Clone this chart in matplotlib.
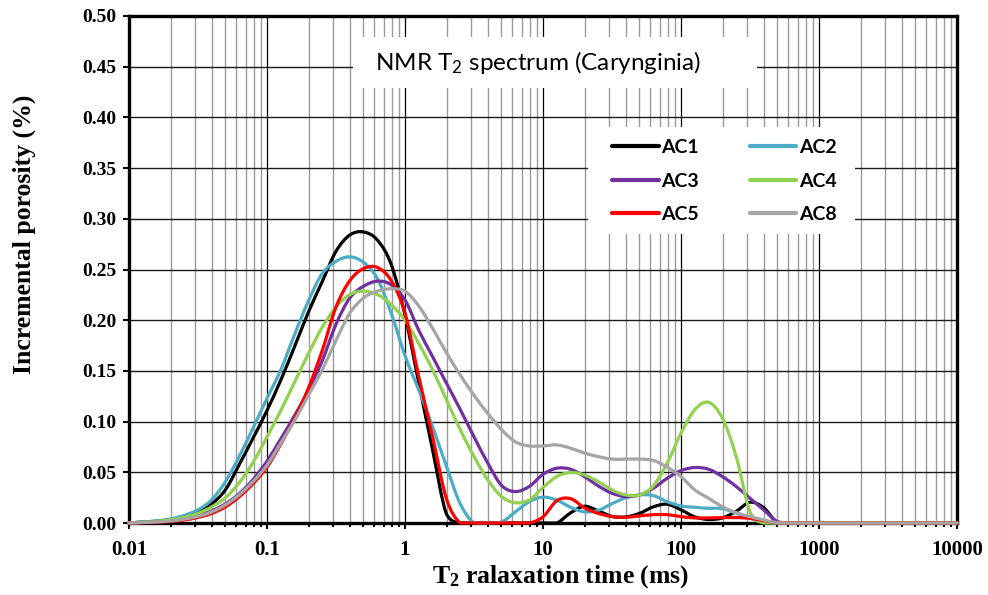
import numpy as np
import matplotlib
matplotlib.use("Agg")
import matplotlib.pyplot as plt
from matplotlib.path import Path
from matplotlib.patches import PathPatch, Rectangle
from matplotlib.lines import Line2D
from matplotlib.ticker import LogLocator, FixedLocator, NullFormatter

# T2 bins (ms), 10 per decade from 0.01 to 10000
t2 = np.logspace(-2, 4, 61)

n_tail = 61 - 49  # zeros from 10^2.8 to 10^4

ac1 = [0, 0.001, 0.0018, 0.0035, 0.0065, 0.011, 0.019, 0.033, 0.058, 0.084,
       0.111, 0.141, 0.174, 0.208, 0.238, 0.268, 0.284, 0.287, 0.279, 0.255,
       0.205, 0.138, 0.072, 0.009, 0, 0, 0, 0, 0, 0,
       0, 0, 0.010, 0.0165, 0.012, 0.0065, 0.006, 0.0095, 0.016, 0.0185,
       0.013, 0.006, 0.0035, 0.005, 0.0115, 0.0205, 0.015, 0, 0] + [0] * n_tail
ac2 = [0, 0.001, 0.002, 0.004, 0.0075, 0.013, 0.023, 0.041, 0.066, 0.094,
       0.123, 0.151, 0.186, 0.219, 0.246, 0.258, 0.2625, 0.257, 0.241, 0.207,
       0.165, 0.131, 0.095, 0.056, 0.019, 0, 0, 0.001, 0.011, 0.021,
       0.0255, 0.0225, 0.0155, 0.011, 0.0125, 0.019, 0.025, 0.0277, 0.027, 0.021,
       0.0168, 0.0155, 0.0145, 0.0142, 0.0096, 0.0046, 0.0013, 0, 0] + [0] * n_tail
ac3 = [0, 0.0005, 0.001, 0.002, 0.004, 0.007, 0.012, 0.019, 0.029, 0.043,
       0.061, 0.083, 0.106, 0.131, 0.160, 0.196, 0.222, 0.2335, 0.2385, 0.235,
       0.220, 0.190, 0.164, 0.138, 0.112, 0.085, 0.059, 0.037, 0.031, 0.036,
       0.048, 0.054, 0.053, 0.0458, 0.0366, 0.0293, 0.026, 0.0277, 0.0343, 0.0441,
       0.0517, 0.0547, 0.053, 0.0458, 0.036, 0.0244, 0.0128, 0.0013, 0] + [0] * n_tail
ac4 = [0, 0.0008, 0.0015, 0.003, 0.0055, 0.0095, 0.016, 0.025, 0.040, 0.060,
       0.085, 0.111, 0.139, 0.167, 0.193, 0.213, 0.2253, 0.2286, 0.2253, 0.2154,
       0.200, 0.177, 0.151, 0.1215, 0.092, 0.0655, 0.0425, 0.026, 0.020, 0.0227,
       0.035, 0.0458, 0.0497, 0.0474, 0.0408, 0.0326, 0.0277, 0.0277, 0.0366, 0.059,
       0.0886, 0.1117, 0.119, 0.1034, 0.0655, 0.0112, 0, 0, 0] + [0] * n_tail
ac5 = [0, 0.0003, 0.0008, 0.0015, 0.003, 0.0055, 0.0095, 0.016, 0.026, 0.039,
       0.055, 0.078, 0.103, 0.133, 0.170, 0.213, 0.239, 0.251, 0.252, 0.239,
       0.207, 0.144, 0.085, 0.024, 0, 0, 0, 0, 0, 0,
       0.006, 0.022, 0.024, 0.015, 0.0095, 0.0063, 0.0056, 0.007, 0.0082, 0.0082,
       0.0063, 0.005, 0.005, 0.0053, 0.0053, 0.0046, 0.0023, 0.0003, 0] + [0] * n_tail
ac8 = [0, 0.0005, 0.001, 0.002, 0.0038, 0.0066, 0.011, 0.018, 0.028, 0.041,
       0.057, 0.079, 0.101, 0.126, 0.151, 0.180, 0.207, 0.222, 0.2286, 0.231,
       0.2286, 0.214, 0.192, 0.168, 0.146, 0.126, 0.108, 0.092, 0.080, 0.076,
       0.076, 0.077, 0.0738, 0.069, 0.0655, 0.063, 0.063, 0.063, 0.0617, 0.055,
       0.0458, 0.0326, 0.0244, 0.0161, 0.0102, 0.0063, 0.003, 0.0003, 0] + [0] * n_tail

series_names = ["AC1", "AC2", "AC3", "AC4", "AC5", "AC8"]
series_vals = [ac1, ac2, ac3, ac4, ac5, ac8]
series_colors = ["#000000", "#4BACC6", "#7030A0", "#92D050", "#FF0000", "#A5A5A5"]

x_ticks = [0.01, 0.1, 1, 10, 100, 1000, 10000]
x_ticklabels = ["0.01", "0.1", "1", "10", "100", "1000", "10000"]
y_ticks = [0.00, 0.05, 0.10, 0.15, 0.20, 0.25, 0.30, 0.35, 0.40, 0.45, 0.50]

title_text = "NMR T$_2$ spectrum (Carynginia)"
xlabel_text = "T$_2$ ralaxation time (ms)"
ylabel_text = "Incremental porosity (%)"

plt.rcParams["mathtext.default"] = "regular"
serif = "Liberation Serif"
sans = "Lato"

W, H = 988, 595
AX_L, AX_R, AX_T, AX_B = 129, 957, 16, 523


def px_to_axes(px, py):
    return (px - AX_L) / (AX_R - AX_L), (AX_B - py) / (AX_B - AX_T)


def smooth_path(x, y):
    """Smoothed (Excel-like Catmull-Rom Bezier) path through the data points,
    built in log-x space and handed to the axes' own log scale."""
    lx = np.log10(np.asarray(x, float))
    yy = np.asarray(y, float)
    pts = np.column_stack([lx, yy])
    n = len(pts)
    verts = [pts[0]]
    codes = [Path.MOVETO]
    for i in range(n - 1):
        p0 = pts[i - 1] if i > 0 else pts[i]
        p1 = pts[i]
        p2 = pts[i + 1]
        p3 = pts[i + 2] if i + 2 < n else pts[i + 1]
        c1 = p1 + (p2 - p0) / 6.0
        c2 = p2 - (p3 - p1) / 6.0
        c1[1] = max(c1[1], 0.0)
        c2[1] = max(c2[1], 0.0)
        verts += [c1, c2, p2]
        codes += [Path.CURVE4] * 3
    verts = np.array(verts)
    verts[:, 0] = 10 ** verts[:, 0]
    return Path(verts, codes)


fig = plt.figure(figsize=(W / 100, H / 100), dpi=100)
ax = fig.add_axes([AX_L / W, (H - AX_B) / H, (AX_R - AX_L) / W, (AX_B - AX_T) / H])
ax.set_xscale("log")
ax.set_xlim(0.01, 10000)
ax.set_ylim(0, 0.5)

handles = {}
for name, vals, col in zip(series_names, series_vals, series_colors):
    patch = PathPatch(smooth_path(t2, vals), facecolor="none", edgecolor=col,
                      lw=2.3, capstyle="round", joinstyle="round",
                      clip_on=False, zorder=3)
    ax.add_patch(patch)
    handles[name] = Line2D([], [], color=col, lw=3, solid_capstyle="round")

ax.xaxis.set_major_locator(FixedLocator(x_ticks))
ax.set_xticklabels(x_ticklabels)
ax.xaxis.set_minor_locator(LogLocator(base=10, subs=np.arange(2, 10)))
ax.xaxis.set_minor_formatter(NullFormatter())
ax.set_yticks(y_ticks)
ax.set_yticklabels([f"{v:.2f}" for v in y_ticks])

ax.grid(which="major", axis="x", color="#000000", lw=0.9, zorder=1)
ax.grid(which="minor", axis="x", color="#9a9a9a", lw=1.0, zorder=1)
ax.grid(which="major", axis="y", color="#1a1a1a", lw=1.0, zorder=1)

for sp in ax.spines.values():
    sp.set_linewidth(2.4)
    sp.set_color("black")
    sp.set_zorder(2)

ax.tick_params(axis="both", which="major", direction="out", length=4, width=1.5,
               colors="black")
ax.tick_params(axis="x", which="both", pad=8)
ax.tick_params(axis="y", which="major", pad=5)
ax.tick_params(axis="x", which="minor", direction="out", length=3, width=1.5)
ax.tick_params(axis="y", which="minor", left=False)
for lab in ax.get_xticklabels():
    lab.set_fontfamily(serif)
    lab.set_fontweight("bold")
    lab.set_fontsize(15)
for lab in ax.get_yticklabels():
    lab.set_fontfamily(serif)
    lab.set_fontweight("bold")
    lab.set_fontsize(14)

ax.set_xlabel(xlabel_text, fontfamily=serif, fontweight="bold", fontsize=18.5)
ax.set_ylabel(ylabel_text, fontfamily=serif, fontweight="bold", fontsize=18.5)
ax.xaxis.set_label_coords(*px_to_axes(561, 577))
ax.yaxis.set_label_coords(*px_to_axes(24, 234))
ax.xaxis.label.set_va("center")
ax.yaxis.label.set_va("center")

# Title box inside the plot area
tx0, ty0 = px_to_axes(353, 88)
tx1, ty1 = px_to_axes(757, 37)
ax.add_patch(Rectangle((tx0, ty0), tx1 - tx0, ty1 - ty0, transform=ax.transAxes,
                       facecolor="white", edgecolor="none", zorder=4))
ax.text(*px_to_axes(538, 62), title_text, transform=ax.transAxes,
        ha="center", va="center", fontfamily=sans, fontsize=17.5, color="black",
        zorder=5)

# Legend with white background block
lx0, ly0 = px_to_axes(588, 234)
lx1, ly1 = px_to_axes(855, 127)
ax.add_patch(Rectangle((lx0, ly0), lx1 - lx0, ly1 - ly0, transform=ax.transAxes,
                       facecolor="white", edgecolor="none", zorder=4))
order = ["AC1", "AC3", "AC5", "AC2", "AC4", "AC8"]
leg = ax.legend([handles[n] for n in order], order, ncol=2, loc="upper left",
                bbox_to_anchor=px_to_axes(612, 139), frameon=False,
                handlelength=2.4, handletextpad=0.15, columnspacing=2.6,
                labelspacing=0.85, borderpad=0.0, borderaxespad=0.0,
                prop={"family": sans, "weight": "bold", "size": 14})
leg.set_zorder(6)

fig.savefig("out.png", dpi=100, facecolor="white")
